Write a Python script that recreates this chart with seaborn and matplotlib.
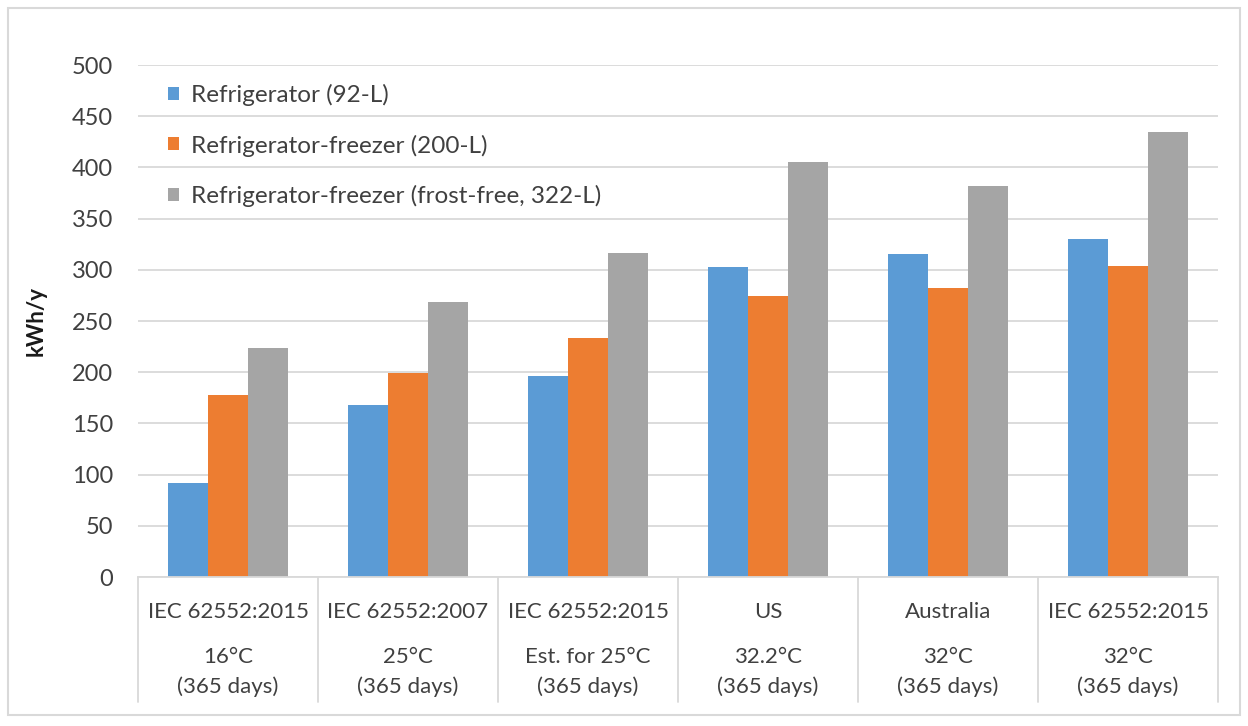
import matplotlib
matplotlib.use("Agg")
import matplotlib.pyplot as plt
import matplotlib.transforms as mtransforms
from matplotlib.patches import Rectangle
import pandas as pd
import seaborn as sns

# Test standards / conditions (three label lines per category)
standards = ["IEC 62552:2015", "IEC 62552:2007", "IEC 62552:2015", "US", "Australia", "IEC 62552:2015"]
conditions = ["16\u00b0C", "25\u00b0C", "Est. for 25\u00b0C", "32.2\u00b0C", "32\u00b0C", "32\u00b0C"]
periods = ["(365 days)"] * 6

series_names = [
    "Refrigerator (92-L)",
    "Refrigerator-freezer (200-L)",
    "Refrigerator-freezer (frost-free, 322-L)",
]
refrigerator_92 = [92, 168, 196, 303, 315, 330]
fridge_freezer_200 = [178, 199, 233, 274, 282, 304]
fridge_freezer_ff_322 = [224, 269, 316, 405, 382, 435]

colors = ["#5B9BD5", "#ED7D31", "#A5A5A5"]
grid_color = "#D9D9D9"
text_color = "#404040"

sns.set_theme(style="white")
plt.rcParams["font.family"] = ["Lato", "DejaVu Sans"]

keys = [f"c{i}" for i in range(len(standards))]
rows = []
for name, vals in zip(series_names, [refrigerator_92, fridge_freezer_200, fridge_freezer_ff_322]):
    for k, v in zip(keys, vals):
        rows.append({"category": k, "series": name, "kWh": v})
df = pd.DataFrame(rows)

fig = plt.figure(figsize=(12.48, 7.26), dpi=100)
ax = fig.add_axes([138 / 1248, 149 / 726, 1080 / 1248, 512 / 726])

sns.barplot(
    data=df, x="category", y="kWh", hue="series", order=keys,
    hue_order=series_names, palette=colors, saturation=1,
    width=0.667, gap=0, edgecolor="none", linewidth=0, ax=ax, errorbar=None,
)

ax.set_ylim(0, 500)
ax.set_xlim(-0.5, len(keys) - 0.5)
ax.set_yticks(range(0, 501, 50))
ax.yaxis.grid(True, color=grid_color, linewidth=1.3)
ax.set_axisbelow(True)
for s in ["top", "right", "left"]:
    ax.spines[s].set_visible(False)
ax.spines["bottom"].set_color(grid_color)
ax.spines["bottom"].set_linewidth(1.3)
ax.tick_params(axis="y", length=0, pad=18, labelsize=17, labelcolor=text_color)
ax.tick_params(axis="x", length=0, pad=18, labelsize=16, labelcolor=text_color)
ax.set_xticks(range(len(keys)))
ax.set_xticklabels(standards)
ax.set_xlabel("")
ax.set_ylabel("kWh/y", fontsize=16, color="#1a1a1a", fontweight="bold", labelpad=18)

# Lower lines of the category labels and the separator boxes
trans = mtransforms.blended_transform_factory(ax.transData, ax.transAxes)
axis_h = 512
for i, (c, p) in enumerate(zip(conditions, periods)):
    ax.text(i, -80 / axis_h, c, transform=trans, ha="center", va="center",
            fontsize=16, color=text_color)
    ax.text(i, -110 / axis_h, p, transform=trans, ha="center", va="center",
            fontsize=16, color=text_color)
for b in [i - 0.5 for i in range(len(keys) + 1)]:
    ax.plot([b, b], [0, -125 / axis_h], transform=trans, color=grid_color,
            linewidth=1.3, clip_on=False)

leg = ax.legend(
    loc="upper left", bbox_to_anchor=(0.028, 0.963), frameon=False,
    fontsize=17.5, handlelength=0.45, handleheight=0.45, handletextpad=0.5,
    labelspacing=1.17, borderaxespad=0, borderpad=0,
)
for t in leg.get_texts():
    t.set_color(text_color)

# Chart-area border
fig.patches.append(Rectangle((8 / 1248, 11 / 726), 1232 / 1248, 707 / 726,
                             transform=fig.transFigure, fill=False,
                             edgecolor=grid_color, linewidth=1.5))

fig.savefig("out.png", dpi=100, facecolor="white")
